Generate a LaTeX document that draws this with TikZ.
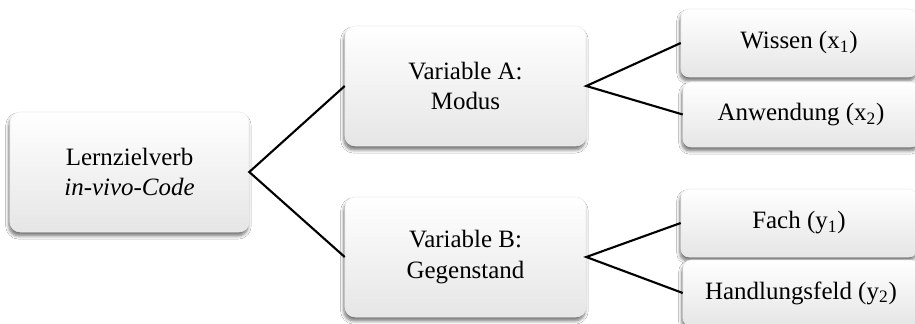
\documentclass[tikz,border=0pt]{standalone}
\usepackage{fontspec}
\setmainfont{Liberation Serif}
\usetikzlibrary{shadows.blur}
\begin{document}
\begin{tikzpicture}[x=0.02cm,y=-0.02cm,
  box/.style={rectangle, rounded corners=0.2cm, inner sep=0pt, align=center,
    top color=white, bottom color=gray!20, draw=gray!15, line width=0.3pt,
    font=\fontsize{14.2}{17.5}\selectfont,
    blur shadow={shadow xshift=-0.6pt, shadow yshift=-2.2pt, shadow blur steps=6, shadow opacity=55}},
  conn/.style={line width=1.2pt, black}]
\path[use as bounding box, clip] (0,0) rectangle (915,324);
\fill[white] (0,0) rectangle (915,324);
\node[box, minimum width=239*0.02cm, minimum height=120*0.02cm] (L) at (129.5,172) {Lernzielverb\\\textit{in-vivo-Code}};
\node[box, minimum width=241*0.02cm, minimum height=120*0.02cm] (A) at (465.5,86) {Variable A:\\Modus};
\node[box, minimum width=241*0.02cm, minimum height=120*0.02cm] (B) at (465.5,257) {Variable B:\\Gegenstand};
\node[box, rounded corners=0.16cm, minimum width=236*0.02cm, minimum height=68*0.02cm] (W) at (799,43) {Wissen (x\textsubscript{1})};
\node[box, rounded corners=0.16cm, minimum width=236*0.02cm, minimum height=65*0.02cm] (An) at (801,114.5) {Anwendung (x\textsubscript{2})};
\node[box, rounded corners=0.16cm, minimum width=236*0.02cm, minimum height=68*0.02cm] (F) at (799,223) {Fach (y\textsubscript{1})};
\node[box, rounded corners=0.16cm, minimum width=236*0.02cm, minimum height=66*0.02cm] (H) at (801,293) {Handlungsfeld (y\textsubscript{2})};
\draw[conn] (A.west) -- (L.east) -- (B.west);
\draw[conn] (W.west) -- (A.east) -- (An.west);
\draw[conn] (F.west) -- (B.east) -- (H.west);
\end{tikzpicture}
\end{document}
